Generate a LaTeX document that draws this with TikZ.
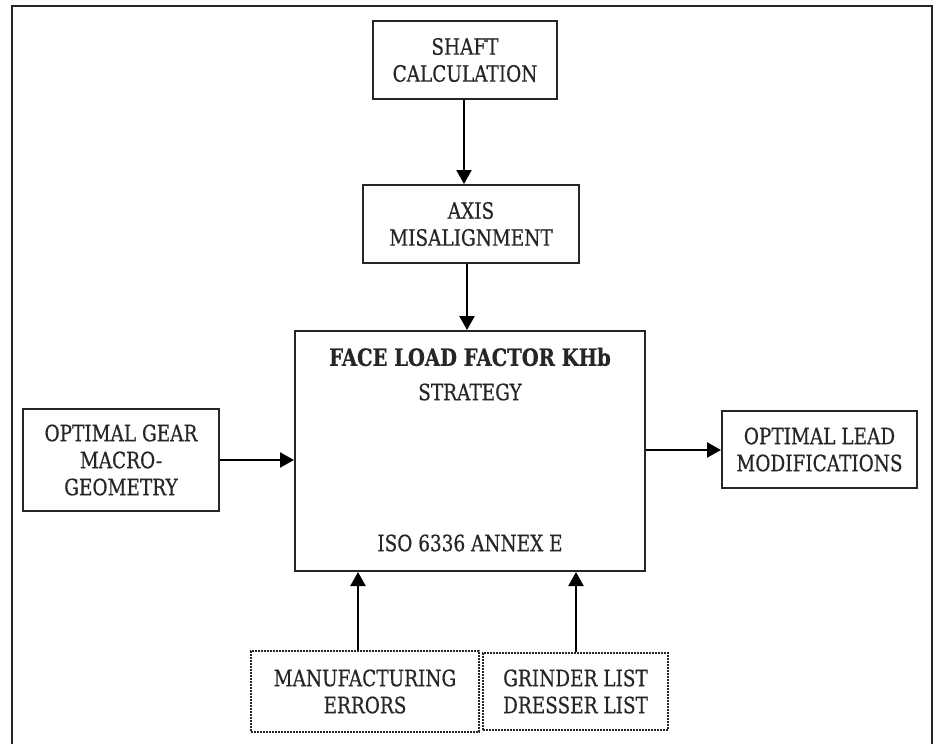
\documentclass[tikz,border=0pt]{standalone}
\usepackage{fontspec}
\setmainfont{DejaVu Serif}[FakeStretch=0.82,FakeBold=0.5]
\usetikzlibrary{arrows.meta}
\tikzset{
  box/.style={draw=black!85, line width=2pt, align=center, inner sep=0pt, font=\fontsize{22.5}{27}\selectfont, text=black!85},
  dotbox/.style={box, line width=1.6pt, dash pattern=on 1.6pt off 1.4pt},
  arr/.style={line width=2.2pt, draw=black, -{Triangle[width=15pt,length=14pt]}},
  lbl/.style={font=\fontsize{22.5}{27}\selectfont, text=black!85, inner sep=0pt}
}
\begin{document}
\begin{tikzpicture}[x=1pt,y=-1pt]
\useasboundingbox (0,0) rectangle (940,744);
\draw[line width=2.6pt, draw=black!85] (12,744) -- (12,6) -- (932,6) -- (932,744);
\node[box, minimum width=184pt, minimum height=78pt] (shaft) at (465,60) {SHAFT\\CALCULATION};
\node[box, minimum width=216pt, minimum height=78pt] (axis) at (471,224) {AXIS\\MISALIGNMENT};
\node[box, minimum width=350pt, minimum height=240pt] (main) at (470,451) {};
\node[lbl, font=\fontsize{23.8}{27}\selectfont\bfseries] (t1) at (470,357) {FACE LOAD FACTOR KHb};
\node[lbl] (t2) at (470,392) {STRATEGY};
\node[lbl] (t3) at (470,543) {ISO 6336 ANNEX E};
\node[box, minimum width=196pt, minimum height=102pt] (left) at (121,460) {OPTIMAL GEAR\\MACRO-\\GEOMETRY};
\node[box, minimum width=195pt, minimum height=77pt] (right) at (819.5,449.5) {OPTIMAL LEAD\\MODIFICATIONS};
\node[dotbox, minimum width=228pt, minimum height=81pt] (manu) at (365,691.5) {MANUFACTURING\\ERRORS};
\node[dotbox, minimum width=185pt, minimum height=77pt] (grind) at (575.5,691.5) {GRINDER LIST\\DRESSER LIST};
\coordinate (a1) at (464,0);
\coordinate (a2) at (467,0);
\coordinate (a3) at (0,460);
\coordinate (a4) at (0,450);
\coordinate (a5) at (358,0);
\coordinate (a6) at (576,0);
\draw[arr] (a1 |- shaft.south) -- (a1 |- axis.north);
\draw[arr] (a2 |- axis.south) -- (a2 |- main.north);
\draw[arr] (left.east |- a3) -- (main.west |- a3);
\draw[arr] (main.east |- a4) -- (right.west |- a4);
\draw[arr] (a5 |- manu.north) -- (a5 |- main.south);
\draw[arr] (a6 |- grind.north) -- (a6 |- main.south);
\end{tikzpicture}
\end{document}
